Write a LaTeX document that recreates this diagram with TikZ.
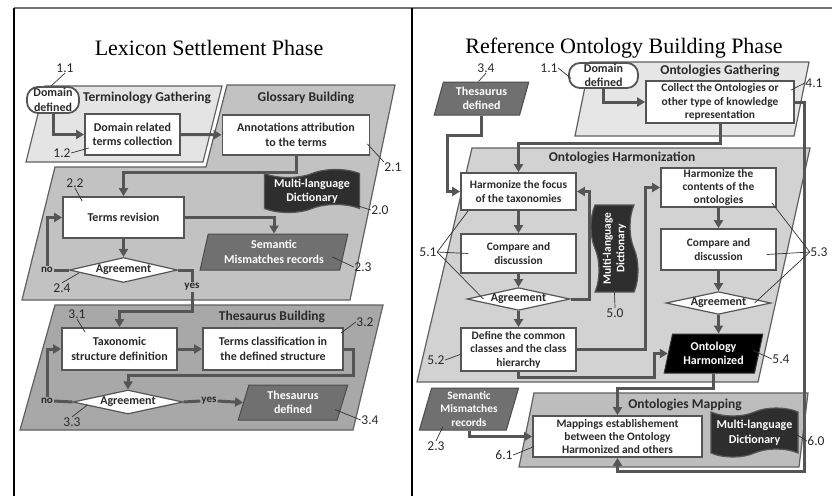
\documentclass[tikz,border=0pt]{standalone}
\usepackage{fontspec}
\setmainfont{Carlito}
\newfontfamily\titlefont{Liberation Serif}
\usetikzlibrary{shapes.geometric,shapes.symbols,arrows.meta}

\definecolor{linegray}{HTML}{555555}
\definecolor{regionline}{HTML}{606060}
\definecolor{txtgray}{HTML}{2A2A2A}
\definecolor{termfill}{HTML}{E4E4E4}
\definecolor{glossfill}{HTML}{C2C2C2}
\definecolor{thesfill}{HTML}{A8A8A8}
\definecolor{gathfill}{HTML}{E6E6E6}
\definecolor{harmfill}{HTML}{D2D2D2}
\definecolor{mapfill}{HTML}{BDBDBD}
\definecolor{recfill}{HTML}{707070}
\definecolor{dictfill}{HTML}{2E2E2E}

\tikzset{
  region/.style={draw=regionline, line width=1.2pt},
  head/.style={font=\bfseries\fontsize{13.5}{16}\selectfont, text=txtgray, inner sep=0pt},
  box/.style={draw=linegray, line width=1.8pt, fill=white, align=center, inner sep=1pt,
    text=txtgray, font=\bfseries\fontsize{12}{14.5}\selectfont},
  boxr/.style={box, font=\bfseries\fontsize{11.4}{13.4}\selectfont},
  startnode/.style={box, rounded corners=11pt},
  decision/.style={diamond, draw=linegray, line width=1.2pt, fill=white, aspect=4.3,
    inner sep=0pt, text=txtgray, font=\bfseries\fontsize{12}{14}\selectfont},
  record/.style={trapezium, trapezium left angle=75, trapezium right angle=105,
    trapezium stretches=true, draw=black!70, line width=1pt, fill=recfill, text=white,
    align=center, inner sep=0pt, font=\bfseries\fontsize{12}{14.5}\selectfont},
  dict/.style={tape, tape bend top=in and out, tape bend bottom=in and out,
    tape bend height=8pt, draw=linegray, line width=1.2pt, fill=dictfill, text=white,
    align=center, inner sep=0pt, font=\bfseries\fontsize{12}{14.5}\selectfont},
  flow/.style={draw=linegray, line width=3pt, -{Triangle[length=8pt,width=9pt]}},
  flowline/.style={draw=linegray, line width=3pt},
  leader/.style={draw=black!80, line width=0.7pt},
  num/.style={font=\fontsize{13.5}{16}\selectfont, text=txtgray, inner sep=0.5pt},
  branch/.style={font=\bfseries\fontsize{11}{13}\selectfont, text=txtgray, inner sep=1pt}
}

\begin{document}
\begin{tikzpicture}[x=1pt, y=-1pt]
  \useasboundingbox (0,0) rectangle (832,496);
  \fill[white] (0,0) rectangle (832,496);

  % frame
  \draw[black!55, line width=1.5pt] (14,8) -- (832,8);
  \draw[line width=2pt] (14,8) -- (14,496);
  \draw[line width=2pt] (412,8) -- (412,496);

  % ---------- Lexicon Settlement Phase ----------
  \node[font=\titlefont\fontsize{22}{26}\selectfont] (titleL) at (209,48) {Lexicon Settlement Phase};

  \draw[region, fill=glossfill] (227,85) -- (395,85) -- (350,300) -- (22,300) -- (55,167) -- (206,167) -- cycle;
  \draw[region, fill=termfill] (45,86) -- (222,86) -- (203,162) -- (26,162) -- cycle;
  \draw[region, fill=thesfill] (55,305) -- (383,305) -- (353,430) -- (20,430) -- cycle;

  \node[head] (hterm) at (147,98) {Terminology Gathering};
  \node[head] (hgloss) at (306,98) {Glossary Building};
  \node[head] (hthes) at (272,317) {Thesaurus Building};

  \node[startnode, minimum width=52pt, minimum height=26pt] (domL) at (53,100) {Domain\\defined};
  \node[box, minimum width=95pt, minimum height=41pt] (collect) at (132.5,134.5) {Domain related\\terms collection};
  \node[box, minimum width=147pt, minimum height=40pt] (annot) at (296,135) {Annotations attribution\\to the terms};
  \node[dict, minimum width=95pt, minimum height=43pt] (dictL) at (312,191) {Multi-language\\Dictionary};
  \node[box, minimum width=121pt, minimum height=41pt] (revision) at (123.5,217.5) {Terms revision};
  \node[record, minimum width=148pt, minimum height=36pt] (semL) at (274,252) {Semantic\\Mismatches records};
  \node[decision, minimum width=108pt, minimum height=25pt] (agreeL1) at (123.5,270) {Agreement};
  \node[branch] (noL1) at (47,270) {no};
  \node[branch] (yesL1) at (192,287) {yes};
  \node[box, minimum width=115pt, minimum height=42pt] (taxo) at (119.5,349) {Taxonomic\\structure definition};
  \node[box, minimum width=140pt, minimum height=42pt] (classif) at (273,349) {Terms classification in\\the defined structure};
  \node[decision, minimum width=110pt, minimum height=24pt] (agreeL2) at (128,402) {Agreement};
  \node[branch] (noL2) at (47,401) {no};
  \node[branch] (yesL2) at (209,401) {yes};
  \node[record, minimum width=110pt, minimum height=35pt] (thesL) at (293,402.5) {Thesaurus\\defined};

  \draw[flow] (domL.south) |- (collect.west);
  \draw[flow] (collect) -- (annot);
  \draw[flow] (annot.south) -- ++(0,17) -| (revision.north);
  \draw[flow] (revision.east) -| (semL.north);
  \draw[flow] (revision.south) -- (agreeL1.north);
  \draw[flowline] (agreeL1.west) -- (noL1.east);
  \draw[flow] (noL1.north) |- (revision.west);
  \draw[flowline] (agreeL1.east) -| (yesL1.north);
  \draw[flow] (yesL1.south) -- ++(0,20) -| (taxo.north);
  \draw[flow] (taxo) -- (classif);
  \draw[flow] (classif.east) -| ++(10,26) -| (agreeL2.north);
  \draw[flowline] (agreeL2.west) -- (noL2.east);
  \draw[flow] (noL2.north) |- (taxo.west);
  \draw[flowline] (agreeL2.east) -- (yesL2.west);
  \draw[flow] (yesL2.east) -- (thesL.west);

  \node[num] (n11L) at (65,68) {1.1};
  \node[num] (n12) at (62,153) {1.2};
  \node[num] (n21) at (393,167) {2.1};
  \node[num] (n22) at (75,183) {2.2};
  \node[num] (n20) at (380,210) {2.0};
  \node[num] (n23L) at (363,267) {2.3};
  \node[num] (n24) at (62,288) {2.4};
  \node[num] (n31) at (77,314) {3.1};
  \node[num] (n32) at (365,322) {3.2};
  \node[num] (n33) at (72,422) {3.3};
  \node[num] (n34L) at (370,420) {3.4};
  \draw[leader] (n11L.south) -- ([xshift=-2pt]domL.north);
  \draw[leader] (n12.east) -- ([xshift=5pt,yshift=8pt]collect.south west);
  \draw[leader] (n21.north west) -- ([xshift=-3pt,yshift=12pt]annot.south east);
  \draw[leader] (n22.south) -- ([xshift=20pt,yshift=-5pt]revision.north west);
  \draw[leader] (n20.west) -- ([xshift=-5pt,yshift=-14pt]dictL.east);
  \draw[leader] (n23L.west) -- ([xshift=-12pt,yshift=-5pt]semL.east);
  \draw[leader] (n24.north) -- ([xshift=10pt,yshift=-3pt]agreeL1.west);
  \draw[leader] (n31.south) -- ([xshift=24pt,yshift=-5pt]taxo.north west);
  \draw[leader] (n32.west) -- ([xshift=-3pt,yshift=-6pt]classif.north east);
  \draw[leader] (n33.north) -- ([xshift=15pt,yshift=-3pt]agreeL2.west);
  \draw[leader] (n34L.west) -- ([xshift=-8pt,yshift=-7pt]thesL.east);

  % ---------- Reference Ontology Building Phase ----------
  \node[font=\titlefont\fontsize{22}{26}\selectfont] (titleR) at (624,48) {Reference Ontology Building Phase};

  \draw[region, fill=gathfill] (590,62) -- (809,62) -- (794,136) -- (575,136) -- cycle;
  \draw[region, fill=harmfill] (472,148) -- (810,148) -- (758,382) -- (417,382) -- cycle;
  \draw[region, fill=mapfill] (534,393) -- (808,393) -- (799,467) -- (519,467) -- cycle;

  \node[head] (hgath) at (720,71) {Ontologies Gathering};
  \node[head] (hharm) at (622,158) {Ontologies Harmonization};
  \node[head] (hmap) at (685,405) {Ontologies Mapping};

  \node[record, minimum width=95pt, minimum height=33pt] (thesR) at (481.5,98.5) {Thesaurus\\defined};
  \node[startnode, minimum width=69pt, minimum height=25pt] (domR) at (603.5,75.5) {Domain\\defined};
  \node[boxr, minimum width=148pt, minimum height=42pt] (collectR) at (720,102) {Collect the Ontologies or\\other type of knowledge\\representation};
  \node[boxr, minimum width=115pt, minimum height=37pt] (focus) at (518.5,191.5) {Harmonize the focus\\of the taxonomies};
  \node[boxr, minimum width=115pt, minimum height=39pt] (compL) at (518.5,253.5) {Compare and\\discussion};
  \node[decision, minimum width=103pt, minimum height=22pt] (agreeR1) at (518.5,299) {Agreement};
  \node[boxr, minimum width=115pt, minimum height=43pt] (define) at (518.5,349.5) {Define the common\\classes and the class\\hierarchy};
  \node[dict, rotate=90, minimum width=87pt, minimum height=47pt,
    font=\bfseries\fontsize{11.4}{13.4}\selectfont] (dictR) at (614.5,248.5) {Multi-language\\Dictionary};
  \node[boxr, minimum width=115pt, minimum height=39pt] (contents) at (718.5,187.5) {Harmonize the\\contents of the\\ontologies};
  \node[boxr, minimum width=115pt, minimum height=41pt] (compR) at (718.5,249.5) {Compare and\\discussion};
  \node[decision, minimum width=105pt, minimum height=22pt] (agreeR2) at (718.5,303) {Agreement};
  \node[record, fill=black, draw=black!80, minimum width=99pt, minimum height=39pt] (harm) at (713.5,353.5) {Ontology\\Harmonized};
  \node[record, minimum width=100pt, minimum height=42pt,
    font=\bfseries\fontsize{11.4}{13.4}\selectfont] (semR) at (469,409) {Semantic\\Mismatches\\records};
  \node[boxr, minimum width=169pt, minimum height=41pt] (mapping) at (617.5,436.5) {Mappings establishement\\between the Ontology\\Harmonized and others};
  \node[dict, minimum width=87pt, minimum height=49pt] (dictR2) at (754.5,432.5) {Multi-language\\Dictionary};

  \draw[flow] (thesR.south) -- ++(0,20) -- ++(-34,0) |- (focus.west);
  \draw[flow] (domR.south) |- (collectR.west);
  \draw[flow] (collectR.south) -- ++(0,20) -| (focus.north);
  \draw[flow] (focus) -- (compL);
  \draw[flow] (compL) -- (agreeR1);
  \draw[flow] (agreeR1.east) -- ++(19,0) |- (focus.east);
  \draw[flow] (agreeR1) -- (define);
  \draw[flow] (define.east) -- ++(69,0) |- (contents.west);
  \draw[flow] (contents) -- (compR);
  \draw[flow] (compR) -- (agreeR2);
  \draw[flow] (agreeR2.south) -- (agreeR2.south |- harm.north);
  \draw[flow] (define.south) -- ++(0,6) -- ++(136,0) |- (harm.west);
  \draw[flow] (harm.south) -- ++(0,15) -| (mapping.north);
  \draw[flow] (semR.south) |- (mapping.west);
  \draw[flow] (collectR.east) -| ++(10,369) -| (mapping.south);

  \node[num] (n34R) at (486,68) {3.4};
  \node[num] (n11R) at (549,68) {1.1};
  \node[num] (n41) at (814,83) {4.1};
  \node[num] (n51) at (428,252) {5.1};
  \node[num] (n50) at (615,313) {5.0};
  \node[num] (n52) at (436,360) {5.2};
  \node[num] (n53) at (819,252) {5.3};
  \node[num] (n54) at (781,359) {5.4};
  \node[num] (n60) at (816,441) {6.0};
  \node[num] (n61) at (504,455) {6.1};
  \node[num] (n23R) at (436,446) {2.3};
  \draw[leader] (n34R.south) -- ([xshift=-3pt]thesR.north);
  \draw[leader] (n11R.east) -- ([xshift=3pt,yshift=-3pt]domR.west);
  \draw[leader] (n41.west) -- ([xshift=-4pt,yshift=-10pt]collectR.north east);
  \draw[leader] (n51.east) -- ([xshift=8pt]focus.south west);
  \draw[leader] (n51.east) -- ([xshift=8pt]compL.west);
  \draw[leader] (n51.east) -- ([xshift=17pt]agreeR1.west);
  \draw[leader] (n50.north) -- ([yshift=-44pt]dictR.center);
  \draw[leader] (n52.east) -- ([yshift=-5pt]define.west);
  \draw[leader] (n53.west) -- ([xshift=-5pt,yshift=5pt]contents.south east);
  \draw[leader] (n53.west) -- ([xshift=-10pt,yshift=-5pt]compR.east);
  \draw[leader] (n53.west) -- ([xshift=-17pt]agreeR2.east);
  \draw[leader] (n54.west) -- ([xshift=-6pt,yshift=3pt]harm.east);
  \draw[leader] (n60.west) -- ([xshift=-8pt,yshift=2pt]dictR2.east);
  \draw[leader] (n61.east) -- ([xshift=2pt,yshift=-10pt]mapping.west);
  \draw[leader] (n23R.north) -- ([xshift=-26pt,yshift=4pt]semR.south);
\end{tikzpicture}
\end{document}
